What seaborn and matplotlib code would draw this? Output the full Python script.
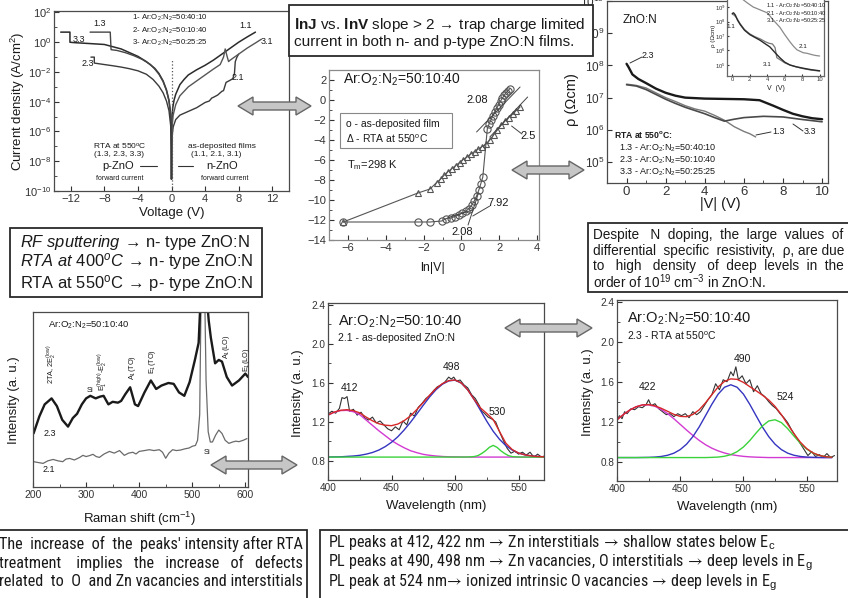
import os
import numpy as np
import pandas as pd
import matplotlib
matplotlib.use("Agg")
import matplotlib.pyplot as plt
import seaborn as sns
from matplotlib import font_manager, ticker
from matplotlib.font_manager import FontProperties
from matplotlib.patches import Polygon, Rectangle
from matplotlib.lines import Line2D

W, H = 848, 598
TXT = '#1a1a1a'

# ---------------- data ----------------
# (A) J-V curves: voltage (V) and log10 current density (A/cm^2)
jv11_v = [0.0, 0.03, 0.08, 0.15, 0.3, 0.5, 1.0, 1.5, 2.0, 3.0, 4.0, 5.0, 6.0, 7.0, 8.0, 9.0, 10.0]
jv11_l = [-9.2, -6.0, -5.0, -4.4, -3.9, -3.5, -2.85, -2.5, -2.2, -1.85, -1.55, -1.2, -0.8, -0.4, 0.0, 0.35, 0.68]
jv21_v = [0.0, 0.03, 0.08, 0.2, 0.5, 1.0, 2.0, 3.0, 4.0, 4.5, 4.8, 5.0, 5.5, 6.0, 6.2, 6.5, 7.0, 7.3, 7.5, 7.6, 7.8, 8.0]
jv21_l = [-9.2, -7.2, -6.3, -5.7, -5.2, -4.9, -4.65, -4.4, -4.05, -3.95, -3.75, -3.7, -3.55, -3.3, -3.25, -2.7, -2.55, -2.45, -2.1, -1.3, -1.0, -0.8]
jv31_v = [0.0, 0.03, 0.08, 0.2, 0.5, 1.0, 2.0, 3.0, 4.0, 5.0, 5.8, 6.2, 6.4, 6.6, 6.8, 7.0, 7.5, 8.0, 9.0, 10.0, 10.7]
jv31_l = [-9.2, -6.5, -5.6, -4.9, -4.2, -3.6, -3.0, -2.6, -2.2, -1.8, -1.5, -1.0, -0.45, -0.9, -1.3, -1.2, -1.0, -0.8, -0.4, -0.05, 0.2]
jv33_v = [-13.2, -12.1, -12.1, -11.5, -10.0, -8.0, -7.0, -6.0, -5.0, -4.0, -3.0, -2.0, -1.5, -1.0, -0.6, -0.3, -0.1, -0.03, 0.0]
jv33_l = [0.68, 0.68, 0.0, -0.03, -0.08, -0.15, -0.3, -0.45, -0.7, -0.95, -1.3, -1.75, -2.1, -2.6, -3.2, -3.9, -4.8, -6.0, -9.2]
jv13_v = [-9.7, -7.3, -7.2, -6.5, -5.5, -4.5, -3.5, -2.5, -2.0, -1.5, -1.0, -0.6, -0.3, -0.1, -0.03, 0.0]
jv13_l = [0.68, 0.68, -0.5, -0.55, -0.7, -0.9, -1.15, -1.5, -1.8, -2.15, -2.65, -3.25, -3.95, -4.9, -6.3, -9.2]
jv23_v = [-9.6, -9.2, -9.2, -8.0, -7.0, -6.0, -5.0, -4.0, -3.0, -2.2, -1.5, -1.0, -0.6, -0.3, -0.1, -0.03, 0.0]
jv23_l = [-1.0, -1.0, -1.4, -1.5, -1.58, -1.67, -1.78, -1.92, -2.15, -2.5, -2.95, -3.4, -3.95, -4.6, -5.6, -7.0, -9.2]
zero_line_top = -1.2

# (B) lnJ vs ln|V|
circ_x = [-6.25, -2.3, -1.66, -1.04, -0.8, -0.55, -0.35, -0.15, 0.05, 0.25, 0.4, 0.55, 0.68, 0.8, 0.92, 1.02, 1.13,
          1.37, 1.47, 1.57, 1.67, 1.77, 1.87, 1.97, 2.07, 2.17, 2.27, 2.37, 2.47, 2.57]
circ_y = [-12.2, -12.2, -12.2, -12.1, -11.85, -11.8, -11.65, -11.5, -11.3, -11.1, -10.85, -10.5, -10.1, -9.6, -9.0, -8.4, -7.7,
          -2.85, -2.35, -1.95, -1.55, -1.15, -0.8, -0.45, -0.1, 0.2, 0.5, 0.75, 0.95, 1.15]
tri_x = [-6.25, -2.3, -1.66, -1.31, -1.1, -0.9, -0.7, -0.5, -0.3, -0.1, 0.1, 0.3, 0.5, 0.7, 0.9, 1.1, 1.3,
         1.5, 1.7, 1.9, 2.1, 2.3, 2.5, 2.7, 2.9, 3.1]
tri_y = [-12.2, -9.3, -8.9, -8.25, -7.9, -7.5, -7.15, -6.85, -6.55, -6.25, -5.95, -5.7, -5.4, -5.15, -4.9, -4.65, -4.4,
         -4.0, -3.5, -3.0, -2.5, -2.1, -1.75, -1.4, -1.05, -0.7]
fit_lines = [([0.8, 3.1], [-3.2, 1.3]), ([1.5, 3.5], [-3.7, 0.3]),
             ([-0.7, 0.6], [-11.75, -11.0]), ([0.35, 0.9], [-12.5, -9.3]),
             ([0.6, 1.5], [-11.6, -10.6]), ([2.65, 3.2], [-2.6, -3.4])]
slopes = [('2.08', 0.85, 0.0), ('2.5', 3.55, -3.6), ('7.92', 1.95, -10.3), ('2.08', 0.05, -13.2)]

# (C) differential resistivity, |V| and log10 rho
r23_v = [0.0, 0.1, 0.3, 0.6, 1.0, 1.5, 2.0, 2.5, 3.0, 4.0, 5.0, 6.0, 6.8, 7.5, 8.0, 8.5, 9.0, 9.5, 10.0]
r23_l = [8.05, 7.95, 7.72, 7.58, 7.45, 7.28, 7.15, 7.06, 7.0, 6.97, 6.96, 6.95, 6.92, 6.75, 6.62, 6.5, 6.42, 6.36, 6.33]
r13_v = [0.0, 0.5, 1.0, 1.5, 2.0, 2.5, 3.0, 3.5, 4.0, 4.5, 5.0, 5.5, 6.0, 6.3, 6.6]
r13_l = [7.42, 7.38, 7.3, 7.15, 7.0, 6.88, 6.75, 6.65, 6.58, 6.45, 6.3, 6.1, 5.95, 5.88, 5.78]
r33_v = [0.0, 0.5, 1.0, 1.5, 2.0, 2.5, 3.0, 3.5, 4.0, 4.5, 5.0, 5.5, 6.0, 7.0, 8.0, 9.0, 10.0]
r33_l = [7.4, 7.36, 7.25, 7.1, 6.95, 6.82, 6.7, 6.6, 6.5, 6.38, 6.27, 6.33, 6.38, 6.42, 6.4, 6.32, 6.25]
# inset (as-deposited)
i21_v = [0.2, 0.8, 1.25, 1.8, 2.4, 3.2, 4.0, 4.7, 5.45, 6.0, 6.6, 7.0, 7.4, 8.1, 8.6, 9.2, 9.6, 10.0]
i21_l = [10.3, 9.85, 9.5, 9.25, 9.0, 8.8, 8.6, 8.1, 7.6, 7.1, 6.6, 6.3, 6.05, 5.85, 5.8, 5.7, 5.65, 5.62]
i11_v = [0.0, 0.15, 0.35, 0.6, 0.9, 1.4, 2.0, 2.6, 3.2, 3.8, 4.3, 4.9, 5.45, 6.0, 6.6, 7.3, 8.1, 9.0, 10.0]
i11_l = [8.55, 8.6, 8.45, 8.1, 7.8, 7.4, 7.1, 6.9, 6.7, 6.45, 6.25, 5.85, 5.5, 5.2, 5.0, 4.88, 4.78, 4.68, 4.6]
i31_v = [0.0, 0.2, 0.5, 0.9, 1.4, 2.0, 2.6, 3.2, 3.8, 4.2, 4.6, 4.9, 5.1, 5.5, 6.0, 6.6, 7.3, 8.1, 9.0, 10.0]
i31_l = [8.5, 8.45, 8.25, 7.85, 7.45, 7.15, 6.95, 6.8, 6.6, 6.5, 6.45, 6.2, 5.5, 5.35, 5.15, 5.0, 4.87, 4.75, 4.65, 4.58]

# (D) Raman spectra
ram_x23 = [201, 212, 222, 235, 245, 255, 266, 275, 283, 292, 300, 308, 318, 326, 333, 342, 350, 360, 366, 374, 383, 392,
           398, 410, 422, 432, 442, 455, 465, 475, 485, 495, 505, 512, 516, 519, 523, 527, 531, 535, 543, 550, 556, 565,
           575, 588, 600, 605]
ram_y23 = [2.9, 3.9, 4.6, 4.95, 4.5, 3.7, 3.3, 3.8, 4.05, 4.6, 4.95, 5.1, 4.95, 5.05, 5.1, 4.6, 4.75, 4.7, 4.8, 5.2, 5.6,
           4.6, 4.5, 5.3, 6.0, 5.5, 5.7, 5.85, 5.8, 5.3, 5.1, 5.9, 7.2, 8.2, 11.0, 14.0, 14.0, 11.0, 9.5, 8.5, 7.0, 7.2,
           7.1, 6.2, 5.7, 6.0, 6.4, 6.2]
ram_x21 = [201, 210, 219, 228, 238, 247, 256, 262, 269, 278, 288, 294, 300, 306, 313, 319, 325, 334, 344, 353, 363, 372,
           380, 388, 394, 400, 410, 419, 428, 438, 444, 450, 456, 463, 470, 478, 486, 494, 500, 506, 510, 514, 517, 520,
           523, 526, 530, 534, 538, 544, 550, 556, 562, 569, 576, 582, 588, 596, 603]
ram_y21 = [1.25, 1.2, 1.15, 1.3, 1.38, 1.3, 1.25, 1.4, 1.44, 1.35, 1.5, 1.62, 1.55, 1.6, 1.68, 1.55, 1.5, 1.7, 1.85,
           1.75, 1.9, 1.62, 1.75, 1.8, 1.7, 1.85, 1.9, 1.95, 1.9, 1.95, 1.8, 1.45, 1.75, 1.95, 1.9, 1.93, 2.0, 2.05,
           2.15, 2.2, 2.5, 4.0, 12.0, 14.0, 12.0, 6.0, 3.0, 2.4, 2.4, 2.8, 3.1, 2.9, 2.5, 2.32, 2.4, 2.45, 2.42, 2.5, 2.6]

# (E) PL, as-deposited (2.1)
wl = list(range(400, 571, 5))
pl1_exp_x = [400, 403, 406, 409, 411, 413, 415, 417, 420, 423, 426, 429, 432, 435, 438, 441, 444, 447, 450, 453, 456,
             459, 462, 465, 468, 471, 474, 477, 480, 483, 486, 489, 492, 495, 497, 499, 501, 504, 507, 510, 513, 516,
             519, 521, 523, 526, 529, 532, 535, 538, 541, 544, 547, 550, 553, 556, 559, 562, 565, 568, 570]
pl1_exp_y = [1.28, 1.31, 1.29, 1.34, 1.45, 1.44, 1.46, 1.31, 1.33, 1.27, 1.30, 1.24, 1.22, 1.25, 1.19, 1.21, 1.17, 1.13,
             1.11, 1.15, 1.12, 1.21, 1.17, 1.29, 1.26, 1.35, 1.39, 1.44, 1.47, 1.52, 1.56, 1.58, 1.61, 1.66, 1.64, 1.66,
             1.62, 1.63, 1.58, 1.55, 1.48, 1.44, 1.37, 1.31, 1.29, 1.25, 1.23, 1.20, 1.10, 1.01, 0.93, 0.88, 0.90, 0.87,
             0.89, 0.86, 0.89, 0.84, 0.87, 0.84, 0.85]
pl1_mag = [1.27, 1.30, 1.317, 1.319, 1.305, 1.275, 1.22, 1.165, 1.11, 1.06, 1.01, 0.97, 0.935, 0.905, 0.885, 0.868,
           0.858, 0.851, 0.846, 0.843, 0.842, 0.841, 0.84, 0.84, 0.84, 0.84, 0.84, 0.84, 0.84, 0.84, 0.84, 0.84, 0.84,
           0.84, 0.84]
pl1_blue = [0.841, 0.842, 0.843, 0.847, 0.851, 0.858, 0.87, 0.887, 0.912, 0.947, 0.992, 1.049, 1.119, 1.198, 1.284,
            1.372, 1.457, 1.531, 1.587, 1.621, 1.629, 1.598, 1.529, 1.431, 1.319, 1.207, 1.105, 1.022, 0.957, 0.912,
            0.881, 0.863, 0.852, 0.846, 0.843]
pl1_green_x = [400, 505, 510, 515, 518, 521, 524, 527, 530, 533, 536, 539, 542, 545, 550, 555, 570]
pl1_green_y = [0.84, 0.84, 0.841, 0.845, 0.855, 0.877, 0.905, 0.94, 0.96, 0.94, 0.905, 0.877, 0.855, 0.845, 0.841,
               0.84, 0.84]
pl1_red = [1.271, 1.302, 1.32, 1.326, 1.316, 1.293, 1.25, 1.212, 1.182, 1.167, 1.162, 1.179, 1.214, 1.263, 1.329, 1.40,
           1.475, 1.542, 1.593, 1.624, 1.631, 1.599, 1.529, 1.431, 1.344, 1.287, 1.225, 1.102, 0.982, 0.917, 0.881,
           0.863, 0.852, 0.846, 0.843]

# (F) PL, RTA 550 C (2.3)
pl2_exp_x = [400, 402, 404, 406, 408, 411, 414, 417, 420, 423, 425, 427, 430, 433, 436, 439, 442, 445, 448, 451, 454,
             457, 460, 463, 466, 469, 472, 475, 478, 481, 484, 487, 490, 492, 494, 496, 499, 502, 505, 508, 511, 514,
             517, 520, 523, 526, 529, 532, 535, 538, 541, 544, 546, 549, 551, 554, 557, 560, 563, 566, 569, 572]
pl2_exp_y = [1.22, 1.26, 1.23, 1.30, 1.28, 1.33, 1.32, 1.35, 1.34, 1.37, 1.42, 1.36, 1.38, 1.33, 1.30, 1.27, 1.28, 1.25,
             1.28, 1.26, 1.28, 1.24, 1.30, 1.27, 1.30, 1.36, 1.42, 1.47, 1.58, 1.52, 1.62, 1.60, 1.70, 1.66, 1.75, 1.62,
             1.66, 1.58, 1.62, 1.50, 1.56, 1.48, 1.45, 1.40, 1.36, 1.33, 1.28, 1.24, 1.19, 1.12, 1.06, 1.00, 0.96, 0.90,
             0.86, 0.90, 0.85, 0.87, 0.84, 0.88, 0.84, 0.86]
pl2_mag = [1.218, 1.271, 1.316, 1.349, 1.367, 1.369, 1.354, 1.323, 1.281, 1.229, 1.173, 1.116, 1.062, 1.012, 0.969,
           0.934, 0.907, 0.886, 0.87, 0.86, 0.852, 0.847, 0.844, 0.842, 0.84, 0.84, 0.84, 0.84, 0.84, 0.84, 0.84, 0.84,
           0.84, 0.84, 0.84]
pl2_blue = [0.84, 0.84, 0.84, 0.84, 0.841, 0.842, 0.845, 0.851, 0.863, 0.884, 0.92, 0.974, 1.05, 1.147, 1.26, 1.374,
            1.476, 1.545, 1.57, 1.545, 1.476, 1.374, 1.26, 1.147, 1.05, 0.974, 0.92, 0.884, 0.863, 0.851, 0.845, 0.842,
            0.841, 0.84, 0.84]
pl2_green = [0.84, 0.84, 0.84, 0.84, 0.84, 0.84, 0.84, 0.84, 0.84, 0.84, 0.84, 0.84, 0.84, 0.84, 0.84, 0.842, 0.845,
             0.853, 0.869, 0.899, 0.946, 1.01, 1.086, 1.157, 1.207, 1.219, 1.191, 1.13, 1.055, 0.983, 0.925, 0.885,
             0.861, 0.849, 0.843]
pl2_red = [1.218, 1.271, 1.316, 1.349, 1.368, 1.371, 1.359, 1.334, 1.304, 1.273, 1.253, 1.25, 1.272, 1.319, 1.389, 1.47,
           1.548, 1.604, 1.629, 1.624, 1.594, 1.551, 1.51, 1.466, 1.417, 1.353, 1.271, 1.174, 1.078, 0.994, 0.93, 0.887,
           0.862, 0.849, 0.843]

# ---------------- style ----------------
sns.set_theme(style="ticks")
plt.rcParams['font.family'] = ['Liberation Sans', 'DejaVu Sans']
plt.rcParams.update({
    'mathtext.fontset': 'custom', 'mathtext.rm': 'Liberation Sans',
    'mathtext.it': 'Liberation Sans:italic', 'mathtext.bf': 'Liberation Sans:bold',
    'mathtext.sf': 'Liberation Sans', 'mathtext.default': 'regular',
    'axes.unicode_minus': True, 'text.color': TXT,
})

fig = plt.figure(figsize=(W / 100, H / 100), dpi=100)
fig.patch.set_facecolor('white')
R = fig.canvas.get_renderer()


def add_ax(l, t, r, b, **kw):
    return fig.add_axes([l / W, 1 - b / H, (r - l) / W, (b - t) / H], **kw)


def ftext(x, y, s, **kw):
    kw.setdefault('ha', 'center')
    kw.setdefault('va', 'center')
    kw.setdefault('color', TXT)
    return fig.text(x / W, 1 - y / H, s, **kw)


def fline(xs, ys, **kw):
    kw.setdefault('color', '#333333')
    kw.setdefault('lw', 0.8)
    fig.add_artist(Line2D([x / W for x in xs], [1 - y / H for y in ys], transform=fig.transFigure, **kw))


def fbox(l, t, r, b, lw=1.3):
    fig.add_artist(Rectangle((l / W, 1 - b / H), (r - l) / W, (b - t) / H, transform=fig.transFigure,
                             facecolor='white', edgecolor='#2a2a2a', lw=lw, zorder=1))


def darrow(x0, x1, y, h=4, hh=9, L=15):
    pts = [(x0, y), (x0 + L, y - hh), (x0 + L, y - h), (x1 - L, y - h), (x1 - L, y - hh), (x1, y),
           (x1 - L, y + hh), (x1 - L, y + h), (x0 + L, y + h), (x0 + L, y + hh)]
    fig.add_artist(Polygon([(x / W, 1 - y / H) for x, y in pts], closed=True, transform=fig.transFigure,
                           facecolor='#c6c6c6', edgecolor='#666666', lw=1.0, zorder=5))


def style(ax, lab=8, spine='#4a4a4a'):
    for s in ax.spines.values():
        s.set_visible(True)
        s.set_color(spine)
        s.set_linewidth(0.9)
    ax.tick_params(which='both', direction='in', colors='#333333', labelsize=lab, pad=2, top=False, right=False)
    ax.tick_params(which='major', length=3.5, width=0.8)
    ax.tick_params(which='minor', length=2, width=0.6)
    ax.set_facecolor('white')
    ax.grid(False)


def xlab(ax, s, x, y, size):
    ax.set_xlabel(s, fontsize=size, color=TXT)
    ax.xaxis.set_label_coords(x / W, 1 - y / H, transform=fig.transFigure)
    ax.xaxis.label.set_va('center')


def ylab(ax, s, x, y, size):
    ax.set_ylabel(s, fontsize=size, color=TXT)
    ax.yaxis.set_label_coords(x / W, 1 - y / H, transform=fig.transFigure)
    ax.yaxis.label.set_va('center')


def lp(ax, x, y, color, lw, **kw):
    sns.lineplot(x=np.asarray(x, float), y=np.asarray(y, float), ax=ax, sort=False, estimator=None,
                 color=color, linewidth=lw, legend=False, **kw)


def text_w(s, fp):
    t = fig.text(0, 0, s, fontproperties=fp)
    w = t.get_window_extent(renderer=R).width
    t.remove()
    return w


def fit_fp(s, target, fp):
    f = fp.copy()
    w = text_w(s, f)
    f.set_size(f.get_size_in_points() * target / w)
    return f


def justify(s, target, fp):
    words = s.split(' ')
    base = text_w(s, fp)
    sp = text_w('a a', fp) - text_w('aa', fp)
    n = max(0, int(round((target - base) / sp)))
    gaps = len(words) - 1
    out = words[0]
    for i, w in enumerate(words[1:]):
        out += ' ' * (1 + n // gaps + (1 if i < n % gaps else 0)) + w
    return out


def narrow_fp(size):
    prefer = ['LiberationSansNarrow-Regular', 'ArialNarrow', 'RobotoCondensed-Regular', 'DejaVuSansCondensed.',
              'NotoSans-Condensed.', 'OpenSans_Condensed-Regular', 'OpenSansCondensed']
    for p in prefer:
        for f in font_manager.fontManager.ttflist:
            if p in os.path.basename(f.fname):
                return FontProperties(family=[f.name, 'DejaVu Sans'], style='normal', weight=f.weight,
                                      stretch=f.stretch, size=size)
    return FontProperties(family=['Liberation Sans', 'DejaVu Sans'], size=size)


ARW = '$\\!\\rightarrow\\!$'

# ================= Panel A: J-V =================
axA = add_ax(54, 11, 289, 191)
axA.set_yscale('log')
for vv, ll, col, lw in [(jv11_v, jv11_l, '#2b2b2b', 1.1), (jv21_v, jv21_l, '#3a3a3a', 1.0),
                        (jv31_v, jv31_l, '#555555', 1.0), (jv33_v, jv33_l, '#2b2b2b', 1.1),
                        (jv13_v, jv13_l, '#454545', 1.0), (jv23_v, jv23_l, '#3a3a3a', 1.0)]:
    lp(axA, vv, 10.0 ** np.asarray(ll), col, lw)
axA.vlines(0, 1e-10, 10.0 ** zero_line_top, colors='#555555', linestyles=':', lw=0.9)
axA.set_xlim(-14, 14)
axA.set_ylim(1e-10, 10 ** 2.1)
style(axA, 8)
axA.set_xticks(range(-12, 13, 4))
axA.set_yticks([10.0 ** k for k in range(-10, 3, 2)])
axA.yaxis.set_minor_locator(ticker.FixedLocator([10.0 ** k for k in range(-9, 2, 2)]))
axA.yaxis.set_minor_formatter(ticker.NullFormatter())
xlab(axA, 'Voltage (V)', 172, 213, 9.5)
ylab(axA, 'Current density (A/cm$^2$)', 18, 101, 9.5)
for i, s in enumerate(['1- Ar:O$_2$:N$_2$=50:40:10', '2- Ar:O$_2$:N$_2$=50:10:40', '3- Ar:O$_2$:N$_2$=50:25:25']):
    ftext(132, 18 + 12.5 * i, s, ha='left', fontsize=5.6)
for s, x, y in [('1.3', 100, 24), ('3.3', 79, 40), ('2.3', 88, 64), ('1.1', 246, 25), ('3.1', 267, 41),
                ('2.1', 238, 78)]:
    ftext(x, y, s, fontsize=6.5)
ftext(120, 146, 'RTA at 550$^{o}$C', fontsize=6)
ftext(119, 155, '(1.3, 2.3, 3.3)', fontsize=6)
ftext(118, 166, 'p-ZnO', fontsize=8)
ftext(120, 179, 'forward current', fontsize=5)
ftext(222, 146, 'as-deposited films', fontsize=6)
ftext(216, 155, '(1.1, 2.1, 3.1)', fontsize=6)
ftext(222, 166, 'n-ZnO', fontsize=8)
ftext(225, 179, 'forward current', fontsize=5)
fline([140, 157], [166, 166])
fline([178, 193], [166, 166])

# ================= Panel B: lnJ vs ln|V| =================
axB = add_ax(329, 70, 539, 240)
lp(axB, tri_x, tri_y, '#555555', 0.8, marker='^', markersize=4.5, markerfacecolor='none',
   markeredgecolor='#555555', markeredgewidth=0.8)
lp(axB, circ_x, circ_y, '#555555', 0.8, marker='o', markersize=5.2, markerfacecolor='none',
   markeredgecolor='#555555', markeredgewidth=0.8)
for fx_, fy_ in fit_lines:
    lp(axB, fx_, fy_, '#444444', 0.7)
axB.set_xlim(-7, 4.1)
axB.set_ylim(-14, 3)
style(axB, 8, spine='#8a8a8a')
axB.set_xticks(range(-6, 5, 2))
axB.set_yticks(range(-14, 3, 2))
axB.xaxis.set_minor_locator(ticker.MultipleLocator(1))
axB.yaxis.set_minor_locator(ticker.MultipleLocator(1))
xlab(axB, 'ln|V|', 433, 268, 9)
for s, x, y in slopes:
    axB.text(x, y, s, fontsize=8, ha='center', va='center', color=TXT)
ftext(343, 80, 'Ar:O$_2$:N$_2$=50:10:40', ha='left', fontsize=10)
fig.add_artist(Rectangle((340 / W, 1 - 148 / H), 112 / W, 35 / H, transform=fig.transFigure,
                         facecolor='white', edgecolor='#888888', lw=0.8, zorder=2))
ftext(346, 124, 'o - as-deposited film', ha='left', fontsize=7.5)
ftext(346, 139, '\u0394 - RTA at 550$^{o}$C', ha='left', fontsize=7.5)
ftext(347, 165, 'T$_m$=298 K', ha='left', fontsize=8)

# ================= Panel C: rho vs |V| =================
axC = add_ax(607, 1, 828, 183)
axC.set_yscale('log')
lp(axC, r13_v, 10.0 ** np.asarray(r13_l), '#7a7a7a', 1.0)
lp(axC, r33_v, 10.0 ** np.asarray(r33_l), '#4a4a4a', 1.2)
lp(axC, r23_v, 10.0 ** np.asarray(r23_l), '#1a1a1a', 1.7)
axC.set_xlim(-1, 10.3)
axC.set_ylim(10 ** 4.35, 10 ** 10.0)
style(axC, 8.5)
axC.tick_params(axis='x', labelsize=9.5)
axC.set_xticks(range(0, 11, 2))
axC.xaxis.set_minor_locator(ticker.MultipleLocator(1))
axC.set_yticks([10.0 ** k for k in range(5, 11)])
axC.yaxis.set_minor_locator(ticker.NullLocator())
xlab(axC, '|V| (V)', 720, 204, 10.5)
ylab(axC, '\u03c1 (\u03a9cm)', 572, 100, 10.5)
ftext(640, 20, 'ZnO:N', fontsize=8.5)
ftext(614, 135, 'RTA at 550$^{o}$C:', ha='left', fontsize=6.2, fontweight='bold')
for i, s in enumerate(['1.3 - Ar:O$_2$:N$_2$=50:40:10', '2.3 - Ar:O$_2$:N$_2$=50:10:40',
                       '3.3 - Ar:O$_2$:N$_2$=50:25:25']):
    ftext(619, 147.5 + 12.2 * i, s, ha='left', fontsize=6.5)
ftext(648, 55, '2.3', fontsize=6.5)
fline([630, 642], [63, 57], lw=0.7)
ftext(779, 132, '1.3', fontsize=6.5)
fline([756, 771], [135, 132], lw=0.7)
ftext(810, 132, '3.3', fontsize=6.5)
fline([793, 803], [124, 131], lw=0.7)

# inset
axI = add_ax(727, -14, 824, 76, zorder=3)
axI.set_yscale('log')
lp(axI, i21_v, 10.0 ** np.asarray(i21_l), '#8a8a8a', 0.9)
lp(axI, i31_v, 10.0 ** np.asarray(i31_l), '#777777', 0.9)
lp(axI, i11_v, 10.0 ** np.asarray(i11_l), '#2a2a2a', 1.0)
axI.set_xlim(-0.6, 10.5)
axI.set_ylim(10 ** 4.24, 10 ** 10.45)
style(axI, 4.2, spine='#666666')
axI.tick_params(which='major', length=1.5, pad=1)
axI.set_xticks(range(0, 11, 2))
axI.set_yticks([10.0 ** k for k in range(5, 10)])
axI.yaxis.set_minor_locator(ticker.NullLocator())
xlab(axI, 'V  (V)', 776, 88, 5)
ylab(axI, '\u03c1 (\u03a9cm)', 713, 36, 4.5)
for i, s in enumerate(['1.1 - Ar:O$_2$:N$_2$=50:40:10', '2.1 - Ar:O$_2$:N$_2$=50:10:40',
                       '3.1 - Ar:O$_2$:N$_2$=50:25:25']):
    ftext(766, 6 + 7.5 * i, s, ha='left', fontsize=4.0, zorder=6)
for s, x, y in [('1.1', 731, 27), ('2.1', 803, 47), ('3.1', 767, 65)]:
    ftext(x, y, s, fontsize=4.5, zorder=6)

# ================= Panel D: Raman =================
axD = add_ax(33, 312, 248, 487)
lp(axD, ram_x21, ram_y21, '#6a6a6a', 0.9)
lp(axD, ram_x23, ram_y23, '#1a1a1a', 1.7)
axD.set_xlim(200, 605)
axD.set_ylim(-0.23, 10)
style(axD, 7.5)
axD.set_xticks(range(200, 601, 100))
axD.xaxis.set_minor_locator(ticker.MultipleLocator(50))
axD.set_yticks([])
xlab(axD, 'Raman shift (cm$^{-1}$)', 140, 519, 9.5)
ylab(axD, 'Intensity (a. u.)', 14, 400, 9.5)
ftext(48, 325, 'Ar:O$_2$:N$_2$=50:10:40', ha='left', fontsize=6.8)
for s, x, y in [('2TA, 2E$_2^{(low)}$', 52, 364), ('E$_1^{(high)}$-E$_2^{(low)}$', 103, 372),
                ('A$_1$(TO)', 132, 368), ('E$_1$(TO)', 152, 362), ('A$_1$(LO)', 227, 347), ('E$_1$(LO)', 246, 360)]:
    ftext(x, y, s, fontsize=5.3, rotation=90)
ftext(90, 391, 'Si', fontsize=5.5)
ftext(207, 452, 'Si', fontsize=5.5)
ftext(50, 433, '2.3', fontsize=6.5)
ftext(49, 470, '2.1', fontsize=6.5)


# ================= Panel E / F: PL =================
def pl_panel(box, exp_x, exp_y, mag, blue, green_x, green_y, red, xmax, xl, yl, title2, peaks):
    ax = add_ax(*box)
    lp(ax, exp_x, exp_y, '#333333', 0.8)
    lp(ax, wl, mag, '#d23ad2', 1.0)
    lp(ax, wl, blue, '#3535c0', 1.0)
    lp(ax, green_x, green_y, '#3ad23a', 1.0)
    lp(ax, wl, red, '#d62828', 1.0)
    ax.set_xlim(400, xmax)
    ax.set_ylim(0.605, 2.42)
    style(ax, 7.2)
    ax.set_xticks(range(400, 551, 50))
    ax.xaxis.set_minor_locator(ticker.MultipleLocator(25))
    ax.set_yticks([0.8, 1.2, 1.6, 2.0, 2.4])
    ax.yaxis.set_major_formatter(ticker.FormatStrFormatter('%.1f'))
    ax.yaxis.set_minor_locator(ticker.MultipleLocator(0.2))
    xlab(ax, 'Wavelength (nm)', xl[0], xl[1], 9.5)
    ylab(ax, 'Intensity (a. u.)', yl[0], yl[1], 9.5)
    ax.text(0.045, 0.895, 'Ar:O$_2$:N$_2$=50:10:40', transform=ax.transAxes, fontsize=10.5, ha='left',
            va='center', color=TXT)
    ax.text(0.045, 0.80, title2, transform=ax.transAxes, fontsize=7.5, ha='left', va='center', color=TXT)
    for s, x, y in peaks:
        ax.text(x, y, s, fontsize=7.5, ha='center', va='center', color=TXT)
    return ax


pl_panel((328, 303, 544, 480), pl1_exp_x, pl1_exp_y, pl1_mag, pl1_blue, pl1_green_x, pl1_green_y, pl1_red, 570,
         (436, 506), (298, 393), '2.1 - as-deposited ZnO:N',
         [('412', 417, 1.55), ('498', 497, 1.76), ('530', 533, 1.30)])
pl_panel((617, 300, 837, 481), pl2_exp_x, pl2_exp_y, pl2_mag, pl2_blue, wl, pl2_green, pl2_red, 574,
         (727, 507), (588, 392), '2.3 - RTA at 550$^{o}$C',
         [('422', 424, 1.55), ('490', 499, 1.83), ('524', 533, 1.45)])

# ================= text boxes =================
base = FontProperties(family=['Liberation Sans', 'DejaVu Sans'], size=10)

fbox(289, 5, 593, 56)
l1 = '$\\mathbf{lnJ}$ vs. $\\mathbf{lnV}$ slope > 2 ' + ARW + ' trap charge limited'
fpt = fit_fp(l1, 291, base)
ftext(294, 25, l1, ha='left', fontproperties=fpt)
ftext(294, 42, 'current in both n- and p-type ZnO:N films.', ha='left', fontproperties=fpt)

fbox(10, 228, 262, 297)
lb1 = '$\\mathit{RF\\ sputtering}$ ' + ARW + ' n- type ZnO:N'
fpl = fit_fp(lb1, 230, base)
ftext(20, 242, lb1, ha='left', fontproperties=fpl)
ftext(20, 262, '$\\mathit{RTA\\ at\\ 400^{o}C}$ ' + ARW + ' n- type ZnO:N', ha='left', fontproperties=fpl)
ftext(20, 283, 'RTA at 550$^{o}$C ' + ARW + ' p- type ZnO:N', ha='left', fontproperties=fpl)

fbox(588, 223, 853, 292)
rl = ['Despite N doping, the large values of', 'differential specific resistivity, \u03c1, are due',
      'to high density of deep levels in the', 'order of 10$^{19}$ cm$^{-3}$ in ZnO:N.']
fpr = base.copy()
fpr.set_size(9.8)
for i, s in enumerate(rl):
    s2 = justify(s, 250, fpr) if i < 3 else s
    ftext(593, 235 + 15.7 * i, s2, ha='left', fontproperties=fpr)

fbox(-5, 530, 307, 605)
bl = ["The increase of the peaks' intensity after RTA", 'treatment implies the increase of defects',
      'related to O and Zn vacancies and interstitials']
fpn = narrow_fp(10.5)
wmax = max(text_w(s, fpn) for s in bl)
fpn.set_size(min(12.5, 10.5 * 296 / wmax))
for i, s in enumerate(bl):
    ftext(-1, 544 + 19 * i, justify(s, 304, fpn), ha='left', fontproperties=fpn)

fbox(320, 530, 853, 605)
br = ['PL peaks at 412, 422 nm ' + ARW + ' Zn interstitials ' + ARW + ' shallow states below E$_\\mathrm{c}$',
      'PL peaks at 490, 498 nm ' + ARW + ' Zn vacancies, O interstitials ' + ARW + ' deep levels in E$_\\mathrm{g}$',
      'PL peak at 524 nm' + ARW + ' ionized intrinsic O vacancies ' + ARW + ' deep levels in E$_\\mathrm{g}$']
fpb = narrow_fp(10.5)
w1 = text_w(br[1], fpb)
fpb.set_size(min(11.6, 10.5 * 512 / w1))
for i, s in enumerate(br):
    ftext(328, 543 + 20 * i, s, ha='left', fontproperties=fpb)

# ================= arrows =================
darrow(238, 311, 106)
darrow(512, 584, 170)
darrow(505, 592, 328)
darrow(211, 297, 465)

fig.savefig('out.png', dpi=100)
